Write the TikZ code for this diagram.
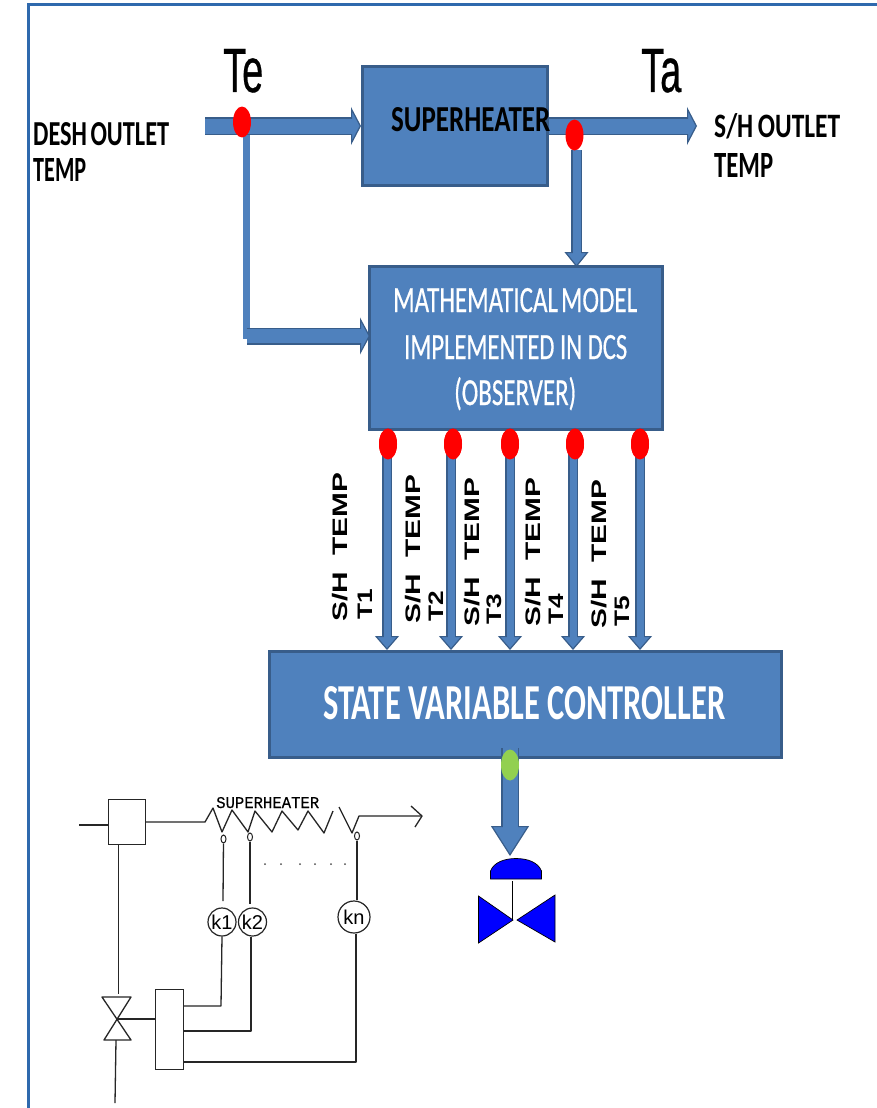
\documentclass[tikz,border=0pt]{standalone}
\usepackage{graphicx}
\usepackage{fontspec}
\setmainfont{Carlito}
\newfontfamily\arialfont{Liberation Sans}
\newfontfamily\arialheavy[FakeBold=0.6]{Liberation Sans}
\newfontfamily\monofont[FakeBold=0.3]{Liberation Mono}
\newfontfamily\medfont[FakeBold=0.6]{Carlito}
\usetikzlibrary{arrows.meta,shapes.geometric}
\definecolor{boxfill}{HTML}{4F81BD}
\definecolor{boxline}{HTML}{385D8A}
\definecolor{frameblue}{HTML}{2F69AD}
\definecolor{valveblue}{HTML}{0000FF}
\definecolor{dotred}{HTML}{FF0000}
\definecolor{dotgreen}{HTML}{92D050}
\newcommand{\fitted}[3]{\resizebox{#1pt}{#2pt}{#3}}
% block arrow: start, end, shaft width, head width, head length
\newcommand{\blockarrow}[5]{%
  \draw[boxline,line width=#3pt,-{Triangle[length=#5pt,width=#4pt,fill=boxfill,line width=1.2pt,sep=0pt]}] (#1) -- (#2);
  \draw[boxfill,line width=#3pt-3pt,shorten >=#5pt-1.5pt] (#1) -- (#2);}
\tikzset{
  bluebox/.style={draw=boxline,fill=boxfill,line width=3pt,inner sep=0pt},
  lab/.style={inner sep=0pt,anchor=base west,text=black},
  whitelab/.style={inner sep=0pt,anchor=base west,text=white},
  dot/.style={ellipse,fill=dotred,inner sep=0pt,minimum width=18pt,minimum height=31pt},
  gdot/.style={dot,fill=dotgreen},
  sketch/.style={draw=black!85,line width=1.3pt,line join=round},
  sketchthin/.style={draw=black!85,line width=.9pt,line join=round},
  sketchcircle/.style={circle,draw=black!85,line width=1.2pt,inner sep=0pt,fill=white},
  tinycircle/.style={ellipse,draw=black!85,line width=1pt,inner sep=0pt,minimum width=5pt,minimum height=8pt},
  vlab/.style={inner sep=0pt,anchor=base west,rotate=90,font=\arialfont\bfseries\fontsize{21}{21}\selectfont},
  valvepart/.style={fill=valveblue,draw=black,line width=.7pt,line join=miter},
  speck/.style={circle,fill=black!70,inner sep=0pt,minimum size=2pt}
}
\newcommand{\templabel}[6]{%
  \node[vlab] (#1a) at (#2,#4) {\scalebox{1.42}[1]{S/H\ \ TEMP}};
  \node[vlab] (#1b) at (#3,#4-2) {\scalebox{1.25}[1]{#5}};}
\begin{document}
\begin{tikzpicture}[x=1pt,y=-1pt]
\useasboundingbox (0,0) rectangle (877,1108);
\fill[white] (0,0) rectangle (877,1108);
% frame
\coordinate (frameTR) at (877,5);
\coordinate (frameTL) at (28,5);
\coordinate (frameBL) at (28,1108);
\draw[frameblue,line width=3pt] (frameTR) -- (frameTL) -- (frameBL);

% boxes
\node[bluebox,minimum width=185pt,minimum height=119pt] (sup) at (455,126) {};
\node[bluebox,minimum width=293pt,minimum height=163pt] (math) at (516,348) {};
\node[bluebox,minimum width=512pt,minimum height=106pt] (svc) at (525,704) {};

% top arrows
\coordinate (deshIn) at (205,126);
\coordinate (supOut) at (549,126);
\coordinate (shOut) at (697,126);
\coordinate (taDown) at (576.5,150);
\coordinate (mathTop) at (576.5,267);
\coordinate (teCorner) at (246.5,336);
\coordinate (mathIn) at (370,336);
\coordinate (teStart) at (246.5,135);
\blockarrow{deshIn}{sup.west}{18}{38}{10}
\blockarrow{supOut}{shOut}{18}{38}{10}
\blockarrow{taDown}{mathTop}{11}{24}{15}
\draw[boxfill,line width=7pt] (teStart) -- (246.5,339);
\blockarrow{teCorner}{mathIn}{17}{37}{10}

% temperature arrows
\foreach \n/\xa/\xb in {1/388/387,2/453/451,3/510/510,4/575/573,5/640/640}{
  \node[dot] (d\n) at (\xa,444) {};
  \coordinate (f\n) at (\xb,452);
  \coordinate (t\n) at (\xb,650);
  \blockarrow{f\n}{t\n}{10}{24}{14}
  \node[dot] at (d\n) {};
}
\node[dot] (te) at (242,122) {};
\node[dot] (ta) at (574.5,135) {};

% controller output
\coordinate (svcOut) at (510,748);
\coordinate (capTip) at (510,856);
\blockarrow{svcOut}{capTip}{18}{38}{30}
\node[gdot] (ctrlDot) at (510,765) {};

% controller valve
\coordinate (capL) at (490.5,879);
\coordinate (capR) at (541.5,879);
\coordinate (stemTop) at (512,881);
\coordinate (stemBot) at (512,920);
\draw[black,line width=.9pt] (stemTop) -- (stemBot);
\draw[valvepart] (capL) -- (490.5,871) .. controls (494,862) and (505,858.5) .. (516,858.5) .. controls (527,858.5) and (538,862) .. (541.5,871) -- (capR) -- cycle;
\draw[valvepart] (478.5,896) -- (513,920) -- (478.5,943) -- cycle;
\draw[valvepart] (555,895) -- (517,920) -- (555,942) -- cycle;

% text
\node[lab] (teL) at (223,92) {\arialheavy\fitted{40}{43}{Te}};
\node[lab] (taL) at (641,92) {\arialheavy\fitted{40}{43}{Ta}};
\node[lab] (desh1) at (33,145) {\bfseries\fitted{136}{23}{DESH\hspace{.14em}OUTLET}};
\node[lab] (desh2) at (33,181) {\bfseries\fitted{53}{23}{TEMP}};
\node[lab] (sh1) at (714,137) {\bfseries\fitted{126}{24}{S/H\hspace{.18em}OUTLET}};
\node[lab] (sh2) at (714,177) {\bfseries\fitted{59}{24}{TEMP}};
\node[lab] (supL) at (391,131) {\bfseries\fitted{159}{24}{SUPERHEATER}};
\node[whitelab] (m1) at (393,312) {\medfont\fitted{244}{24}{MATHEMATICAL\hspace{.12em}MODEL}};
\node[whitelab] (m2) at (404,359) {\medfont\fitted{223}{24}{IMPLEMENTED IN DCS}};
\node[whitelab] (m3) at (454,405) {\medfont\fitted{122}{28}{(OBSERVER)}};
\node[whitelab] (svcL) at (323,719) {\bfseries\fitted{402}{33}{STATE VARIABLE CONTROLLER}};
\templabel{v1}{347}{372}{622}{T1}{}
\templabel{v2}{420}{443}{624}{T2}{}
\templabel{v3}{479}{501}{627}{T3}{}
\templabel{v4}{540}{563}{627}{T4}{}
\templabel{v5}{606}{629}{629}{T5}{}

% sketch: bottom left
\node[draw=black!85,line width=1.1pt,minimum width=37pt,minimum height=45pt,inner sep=0pt] (mix) at (127,822) {};
\node[draw=black!85,line width=1.1pt,minimum width=28pt,minimum height=80pt,inner sep=0pt] (ctl) at (169.5,1029.5) {};
\coordinate (inL) at (79,825);
\coordinate (vcen) at (117,1019);
\coordinate (vtop) at (118,994);
\coordinate (vbot) at (116,1040);
\coordinate (vend) at (115,1103);
\coordinate (coilS) at (205,822);
\draw[sketch] (inL) -- (mix.west |- inL);
\draw[sketch] (mix.east |- coilS) -- (coilS) -- (213,808) -- (222,832) -- (232,810) -- (248,832) -- (255,811) -- (272,832) -- (282,811) -- (298,830) -- (308,811) -- (324,833) -- (333,811);
\coordinate (outEnd) at (422,816);
\draw[sketch] (339,807) -- (352,833) -- (359,816) -- (outEnd);
\draw[sketch] (411,806) -- (outEnd) -- (415,827);
\node[inner sep=0pt,anchor=base west] (shS) at (216,808) {\monofont\fitted{103}{11}{SUPERHEATER}};
\draw[sketch] (102,997) -- (131,997) -- (104,1040) -- (131,1040) -- cycle;
\draw[sketchthin] (mix.south -| vtop) -- (vtop);
\draw[sketch] (vbot) -- (vend);
\draw[sketch] (vcen) -- (ctl.west |- vcen);
\node[tinycircle] (c1) at (223.5,839) {};
\node[tinycircle] (c2) at (250,837) {};
\node[tinycircle] (cn) at (357,836) {};
\node[sketchcircle,minimum size=28pt] (k1) at (222,922) {\arialfont\fontsize{20}{20}\selectfont k1};
\node[sketchcircle,minimum size=28pt] (k2) at (252.5,922) {\arialfont\fontsize{20}{20}\selectfont k2};
\node[sketchcircle,minimum size=32pt] (kn) at (354,917) {\arialfont\fontsize{20}{20}\selectfont kn};
\draw[sketch] (c1) -- (223,901);
\draw[sketch] (c2) -- (250,904);
\draw[sketch] (cn) -- (357,900);
\coordinate (w1) at (221,1006);
\coordinate (w2) at (251,1031);
\coordinate (wn) at (356,1062);
\draw[sketch] (k1.south) -- (w1) -- (ctl.east |- w1);
\draw[sketch] (k2.south -| w2) -- (w2) -- (ctl.east |- w2);
\draw[sketch] (kn.south -| wn) -- (wn) -- (ctl.east |- wn);
\foreach \sx in {265,281,300,315,331,345}{\node[speck] at (\sx,864) {};}
\end{tikzpicture}
\end{document}
